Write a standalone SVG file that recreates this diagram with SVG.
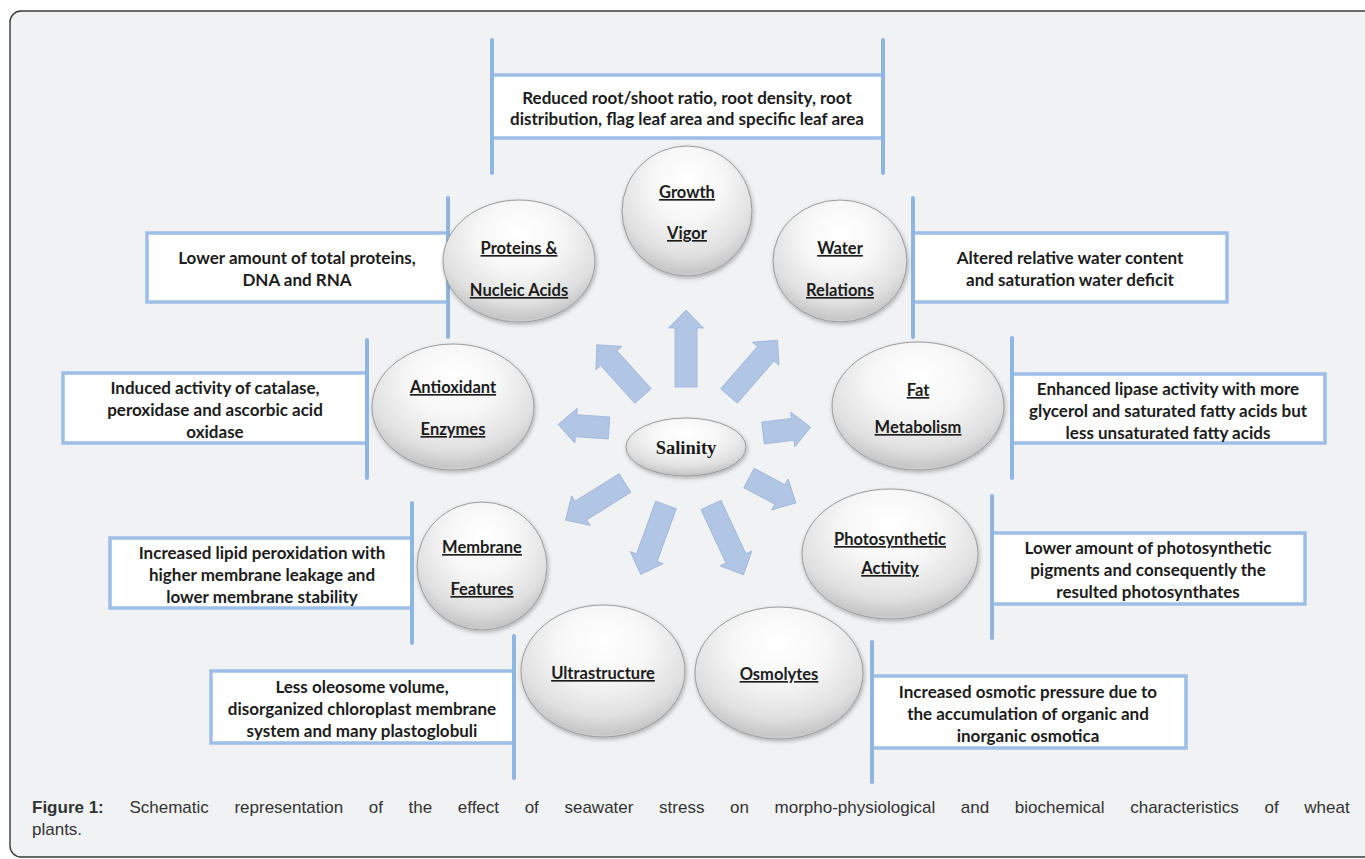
<svg xmlns="http://www.w3.org/2000/svg" width="1365" height="859" viewBox="0 0 1365 859">
<defs>
<radialGradient id="bub" cx="50%" cy="34%" r="70%" fx="50%" fy="26%">
<stop offset="0%" stop-color="#ffffff"/>
<stop offset="40%" stop-color="#f7f7f7"/>
<stop offset="75%" stop-color="#e0e0e0"/>
<stop offset="92%" stop-color="#c6c6c6"/>
<stop offset="100%" stop-color="#eeeeee"/>
</radialGradient>
<filter id="sh" x="-20%" y="-20%" width="140%" height="150%">
<feDropShadow dx="1" dy="2" stdDeviation="2" flood-color="#000" flood-opacity="0.28"/>
</filter>
<style>
.frame{fill:#f1f2f4;stroke:#3a3a3a;stroke-width:1.4}
.bub{fill:url(#bub);stroke:#9a9a9a;stroke-width:1;filter:url(#sh)}
.box{fill:#ffffff;stroke:#9dbee7;stroke-width:3.5}
.vl{stroke:#8fb5e3;stroke-width:4;stroke-linecap:round;fill:none}
.bt{font-family:Lato,"Open Sans","Liberation Sans",sans-serif;font-weight:700;font-size:17px;fill:#1c1c1c;text-anchor:middle}
.nt{font-family:Lato,"Open Sans","Liberation Sans",sans-serif;font-weight:700;font-size:16.5px;fill:#1c1c1c;text-anchor:middle;text-decoration:underline}
.sal{font-family:"Liberation Serif","DejaVu Serif",serif;font-weight:700;font-size:18.5px;fill:#1c1c1c;text-anchor:middle}
.arr{fill:#b1c5e5;stroke:#9db3d9;stroke-width:0.8}
.cap{font-family:"Liberation Sans",Arial,sans-serif;font-size:17px;fill:#333}
</style>
</defs>
<rect x="0" y="0" width="1365" height="859" fill="#ffffff"/>
<rect class="frame" x="10" y="11" width="1375" height="846" rx="11"/>

<g id="box-growth">
<rect class="box" x="492" y="75" width="391" height="63"/>
<line class="vl" x1="492" y1="40" x2="492" y2="173"/>
<line class="vl" x1="883" y1="40" x2="883" y2="173"/>
<text class="bt" x="687" y="104">Reduced root/shoot ratio, root density, root</text>
<text class="bt" x="687" y="125">distribution, flag leaf area and specific leaf area</text>
</g>
<g id="box-proteins">
<rect class="box" x="147" y="233" width="301" height="69"/>
<line class="vl" x1="448" y1="198" x2="448" y2="337"/>
<text class="bt" x="297" y="264">Lower amount of total proteins,</text>
<text class="bt" x="297" y="286">DNA and RNA</text>
</g>
<g id="box-water">
<rect class="box" x="913" y="233" width="314" height="69"/>
<line class="vl" x1="913" y1="198" x2="913" y2="337"/>
<text class="bt" x="1070" y="264">Altered relative water content</text>
<text class="bt" x="1070" y="286">and saturation water deficit</text>
</g>
<g id="box-antioxidant">
<rect class="box" x="63" y="373" width="304" height="70"/>
<line class="vl" x1="367" y1="340" x2="367" y2="478"/>
<text class="bt" x="215" y="394">Induced activity of catalase,</text>
<text class="bt" x="215" y="416">peroxidase and ascorbic acid</text>
<text class="bt" x="215" y="438">oxidase</text>
</g>
<g id="box-fat">
<rect class="box" x="1012" y="374" width="313" height="69"/>
<line class="vl" x1="1012" y1="338" x2="1012" y2="478"/>
<text class="bt" x="1168" y="395">Enhanced lipase activity with more</text>
<text class="bt" x="1168" y="417">glycerol and saturated fatty acids but</text>
<text class="bt" x="1168" y="439">less unsaturated fatty acids</text>
</g>
<g id="box-membrane">
<rect class="box" x="110" y="538" width="302" height="70"/>
<line class="vl" x1="412" y1="503" x2="412" y2="643"/>
<text class="bt" x="262" y="559">Increased lipid peroxidation with</text>
<text class="bt" x="262" y="581">higher membrane leakage and</text>
<text class="bt" x="262" y="603">lower membrane stability</text>
</g>
<g id="box-photo">
<rect class="box" x="992" y="533" width="313" height="71"/>
<line class="vl" x1="992" y1="496" x2="992" y2="638"/>
<text class="bt" x="1148" y="554">Lower amount of photosynthetic</text>
<text class="bt" x="1148" y="576">pigments and consequently the</text>
<text class="bt" x="1148" y="598">resulted photosynthates</text>
</g>
<g id="box-ultra">
<rect class="box" x="211" y="671" width="303" height="72"/>
<line class="vl" x1="514" y1="636" x2="514" y2="778"/>
<text class="bt" x="362" y="693">Less oleosome volume,</text>
<text class="bt" x="362" y="715">disorganized chloroplast membrane</text>
<text class="bt" x="362" y="737">system and many plastoglobuli</text>
</g>
<g id="box-osmo">
<rect class="box" x="872" y="676" width="314" height="72"/>
<line class="vl" x1="872" y1="642" x2="872" y2="782"/>
<text class="bt" x="1028" y="698">Increased osmotic pressure due to</text>
<text class="bt" x="1028" y="720">the accumulation of organic and</text>
<text class="bt" x="1028" y="742">inorganic osmotica</text>
</g>

<g id="node-growth">
<circle class="bub" cx="687" cy="211" r="65"/>
<text class="nt" x="687" y="198">Growth</text>
<text class="nt" x="687" y="239">Vigor</text>
</g>
<g id="node-proteins">
<ellipse class="bub" cx="519" cy="261" rx="76" ry="61"/>
<text class="nt" x="519" y="254">Proteins &amp;</text>
<text class="nt" x="519" y="296">Nucleic Acids</text>
</g>
<g id="node-water">
<ellipse class="bub" cx="840" cy="261" rx="67" ry="61"/>
<text class="nt" x="840" y="254">Water</text>
<text class="nt" x="840" y="296">Relations</text>
</g>
<g id="node-antioxidant">
<ellipse class="bub" cx="453" cy="407" rx="81" ry="63"/>
<text class="nt" x="453" y="393">Antioxidant</text>
<text class="nt" x="453" y="435">Enzymes</text>
</g>
<g id="node-fat">
<ellipse class="bub" cx="918" cy="406" rx="86" ry="64"/>
<text class="nt" x="918" y="396">Fat</text>
<text class="nt" x="918" y="433">Metabolism</text>
</g>
<g id="node-membrane">
<ellipse class="bub" cx="482" cy="566" rx="65" ry="64"/>
<text class="nt" x="482" y="553">Membrane</text>
<text class="nt" x="482" y="595">Features</text>
</g>
<g id="node-photo">
<ellipse class="bub" cx="890" cy="554" rx="88" ry="65"/>
<text class="nt" x="890" y="545">Photosynthetic</text>
<text class="nt" x="890" y="574">Activity</text>
</g>
<g id="node-ultra">
<ellipse class="bub" cx="603" cy="671" rx="82" ry="66"/>
<text class="nt" x="603" y="679">Ultrastructure</text>
</g>
<g id="node-osmo">
<ellipse class="bub" cx="779" cy="673" rx="84" ry="66"/>
<text class="nt" x="779" y="680">Osmolytes</text>
</g>
<g id="node-salinity">
<ellipse class="bub" cx="686" cy="447" rx="60" ry="29"/>
<text class="sal" x="686" y="454">Salinity</text>
</g>

<g id="connectors">
<path class="arr" transform="translate(686,387) rotate(-90)" d="M0,-11 H59 V-17.5 L77,0 L59,17.5 V11 H0 Z"/>
<path class="arr" transform="translate(729,396) rotate(-49)" d="M0,-11 H56 V-17.5 L74,0 L56,17.5 V11 H0 Z"/>
<path class="arr" transform="translate(643,396) rotate(-132)" d="M0,-11 H51 V-17.5 L69,0 L51,17.5 V11 H0 Z"/>
<path class="arr" transform="translate(609,428) rotate(184)" d="M0,-11 H33 V-17.5 L51,0 L33,17.5 V11 H0 Z"/>
<path class="arr" transform="translate(763,433) rotate(-7)" d="M0,-11 H30 V-17.5 L48,0 L30,17.5 V11 H0 Z"/>
<path class="arr" transform="translate(625,483) rotate(148)" d="M0,-11 H52 V-17.5 L70,0 L52,17.5 V11 H0 Z"/>
<path class="arr" transform="translate(666,505) rotate(110)" d="M0,-11 H56 V-17.5 L74,0 L56,17.5 V11 H0 Z"/>
<path class="arr" transform="translate(711,505) rotate(65)" d="M0,-11 H59 V-17.5 L77,0 L59,17.5 V11 H0 Z"/>
<path class="arr" transform="translate(749,478) rotate(28)" d="M0,-11 H35 V-17.5 L53,0 L35,17.5 V11 H0 Z"/>
</g>

<g id="caption">
<text class="cap" x="32" y="813" word-spacing="20.9"><tspan font-weight="700" word-spacing="0">Figure 1:</tspan> Schematic representation of the effect of seawater stress on morpho-physiological and biochemical characteristics of wheat</text>
<text class="cap" x="32" y="835">plants.</text>
</g>
</svg>
